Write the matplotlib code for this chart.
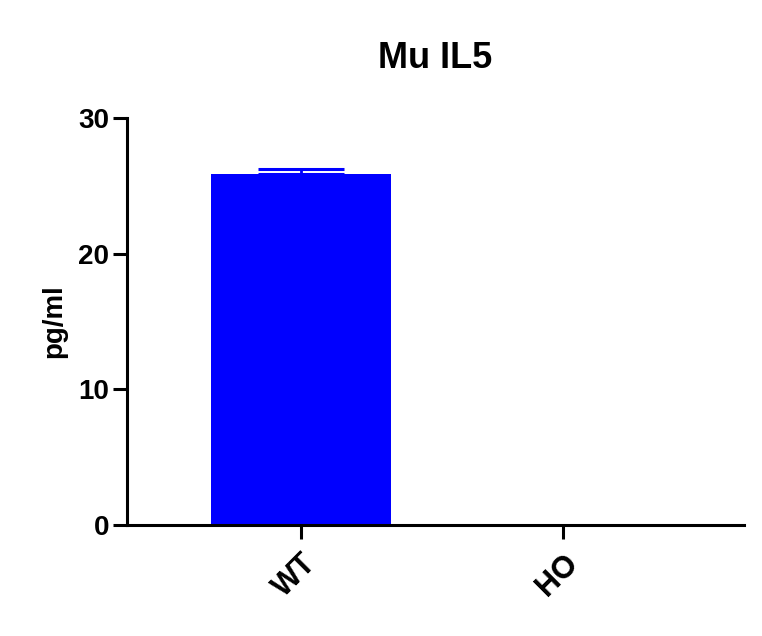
# libraries
import matplotlib.pyplot as plt

# data
groups = ['WT', 'HO']
means = [25.9, 0.0]
sems = [0.35, 0.0]
y_ticks = [0, 10, 20, 30]

plt.rcParams['font.family'] = ['Liberation Sans', 'DejaVu Sans']
plt.rcParams['font.weight'] = 'bold'

fig = plt.figure(figsize=(7.62, 6.36), dpi=100)
ax = fig.add_axes([0.1673, 0.1745, 0.8087, 0.64])

pos = list(range(len(groups)))

# error bars only where there is a spread (upper half, bar hides the rest)
err_pos = [p for p, s in zip(pos, sems) if s > 0]
err_mean = [m for m, s in zip(means, sems) if s > 0]
err_sem = [s for s in sems if s > 0]
ax.errorbar(err_pos, err_mean, yerr=[[0] * len(err_sem), err_sem], fmt='none',
            ecolor='#0000FF', elinewidth=2, capsize=31, capthick=2.2, zorder=1)
ax.bar(pos, means, width=0.69, color='#0000FF', zorder=2)

ax.set_xlim(-0.662, 1.691)
ax.set_ylim(0, 30)
ax.set_yticks(y_ticks)
ax.set_xticks(pos)
ax.set_xticklabels(groups, rotation=45, ha='right', va='top', rotation_mode='anchor')

for s in ['top', 'right']:
    ax.spines[s].set_visible(False)
for s in ['left', 'bottom']:
    ax.spines[s].set_linewidth(2.2)
ax.tick_params(axis='both', width=2.2, length=10, labelsize=20, pad=3)
ax.tick_params(axis='x', pad=7, labelsize=22)

ax.set_ylabel('pg/ml', fontsize=20, fontweight='bold', labelpad=8)
ax.set_title('Mu IL5', fontsize=26, fontweight='bold', pad=36)

fig.savefig('out.png', dpi=100)
